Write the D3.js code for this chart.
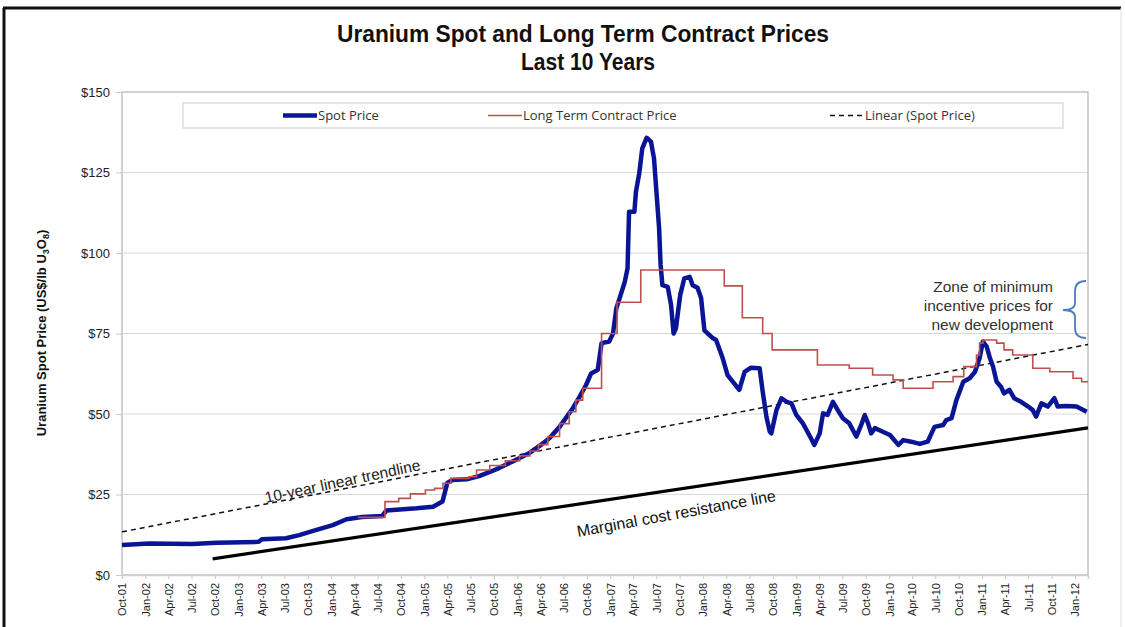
<!DOCTYPE html>
<html>
<head>
<meta charset="utf-8">
<script src="https://cdn.jsdelivr.net/npm/d3@7"></script>
<style>
  body { margin: 0; background: #fff; }
  svg { display: block; }
</style>
</head>
<body>
<div id="chart"></div>
<script>
// spot price, weekly-ish readings [date, US$/lb]
const spotPrice = [
  ['2001-10-01', 9.3], ['2002-01-16', 9.8], ['2002-07-04', 9.6], ['2002-10-07', 10.0],
  ['2003-03-22', 10.3], ['2003-04-04', 11.1], ['2003-07-07', 11.4], ['2003-08-28', 12.4],
  ['2003-11-04', 14.0], ['2004-01-07', 15.5], ['2004-03-01', 17.3], ['2004-05-01', 18.0],
  ['2004-07-19', 18.3], ['2004-08-04', 20.0], ['2004-12-01', 20.7], ['2005-02-04', 21.2],
  ['2005-03-13', 22.8], ['2005-04-01', 28.6], ['2005-04-21', 29.5], ['2005-06-16', 29.7],
  ['2005-08-04', 30.7], ['2005-09-15', 32.0], ['2005-10-21', 33.2], ['2005-12-01', 34.8],
  ['2006-01-10', 36.3], ['2006-02-18', 37.9], ['2006-03-28', 40.0], ['2006-05-07', 42.5],
  ['2006-06-16', 46.0], ['2006-08-07', 51.8], ['2006-09-03', 55.4], ['2006-09-28', 59.0],
  ['2006-10-18', 62.6], ['2006-11-13', 63.7], ['2006-11-28', 72.0], ['2006-12-28', 72.5],
  ['2007-01-12', 75.0], ['2007-01-25', 82.8], ['2007-02-07', 86.0], ['2007-02-27', 91.0],
  ['2007-03-10', 95.2], ['2007-03-16', 112.8], ['2007-04-06', 112.8], ['2007-04-12', 119.0],
  ['2007-04-25', 124.7], ['2007-05-07', 132.5], ['2007-05-24', 135.8], ['2007-06-10', 134.6],
  ['2007-06-22', 129.4], ['2007-07-01', 119.6], ['2007-07-12', 107.7], ['2007-07-18', 96.3],
  ['2007-07-25', 90.0], ['2007-08-15', 89.5], ['2007-08-28', 83.9], ['2007-09-07', 75.0],
  ['2007-09-16', 76.6], ['2007-10-03', 87.0], ['2007-10-19', 92.1], ['2007-11-09', 92.6],
  ['2007-11-21', 90.0], ['2007-12-10', 89.2], ['2007-12-24', 86.0], ['2008-01-06', 76.0],
  ['2008-01-19', 75.0], ['2008-02-09', 73.5], ['2008-02-21', 73.0], ['2008-03-18', 67.3],
  ['2008-04-06', 62.1], ['2008-04-27', 60.0], ['2008-05-22', 57.5], ['2008-06-12', 63.1],
  ['2008-07-07', 64.4], ['2008-08-10', 64.2], ['2008-08-22', 57.0], ['2008-09-06', 49.0],
  ['2008-09-19', 44.5], ['2008-09-25', 44.0], ['2008-10-15', 51.2], ['2008-11-04', 54.9],
  ['2008-11-24', 53.8], ['2008-12-13', 53.3], ['2009-01-01', 49.7], ['2009-01-27', 47.1],
  ['2009-02-24', 43.0], ['2009-03-13', 40.4], ['2009-04-03', 44.0], ['2009-04-16', 50.2],
  ['2009-05-04', 49.7], ['2009-05-25', 53.8], ['2009-06-13', 51.2], ['2009-07-03', 48.7],
  ['2009-07-28', 47.1], ['2009-08-25', 43.0], ['2009-09-13', 46.6], ['2009-09-27', 49.7],
  ['2009-10-10', 47.1], ['2009-10-22', 44.0], ['2009-11-06', 45.6], ['2009-12-07', 44.5],
  ['2010-01-04', 43.5], ['2010-02-06', 40.4], ['2010-02-25', 41.9], ['2010-03-28', 41.4],
  ['2010-05-01', 40.7], ['2010-06-01', 41.4], ['2010-06-28', 46.0], ['2010-08-01', 46.6],
  ['2010-08-13', 48.1], ['2010-09-03', 48.7], ['2010-09-22', 54.3], ['2010-10-19', 60.0],
  ['2010-11-13', 61.1], ['2010-12-04', 63.1], ['2010-12-22', 67.3], ['2011-01-04', 72.5],
  ['2011-01-19', 70.9], ['2011-02-01', 67.3], ['2011-02-13', 64.7], ['2011-02-27', 60.0],
  ['2011-03-16', 58.5], ['2011-03-28', 56.4], ['2011-04-18', 57.5], ['2011-05-07', 54.9],
  ['2011-06-03', 53.8], ['2011-07-01', 52.3], ['2011-07-19', 51.2], ['2011-08-01', 49.2],
  ['2011-08-22', 53.3], ['2011-09-16', 52.3], ['2011-10-12', 54.9], ['2011-10-25', 52.3],
  ['2011-11-28', 52.5], ['2012-01-07', 52.3], ['2012-02-16', 50.7]
];

// long term contract price, step changes [date, US$/lb]
const contractPrice = [
  ['2004-04-15', 17.9], ['2004-07-30', 22.8], ['2004-09-22', 23.8], ['2004-11-07', 25.2],
  ['2005-01-05', 26.4], ['2005-02-10', 26.9], ['2005-03-15', 28.5], ['2005-04-15', 30.0],
  ['2005-06-25', 30.5], ['2005-07-25', 32.6], ['2005-09-15', 34.0], ['2005-11-15', 35.5],
  ['2006-01-10', 37.0], ['2006-02-20', 38.5], ['2006-03-25', 40.5], ['2006-05-01', 43.0],
  ['2006-06-16', 47.0], ['2006-07-24', 50.7], ['2006-08-19', 54.3], ['2006-09-15', 58.0],
  ['2006-11-28', 75.0], ['2007-01-28', 84.7], ['2007-05-01', 94.7], ['2008-03-24', 89.8],
  ['2008-06-03', 79.9], ['2008-08-22', 75.0], ['2008-09-28', 69.9], ['2009-03-25', 65.2],
  ['2009-07-28', 64.2], ['2009-10-28', 62.1], ['2010-01-16', 60.6], ['2010-02-25', 58.0],
  ['2010-06-22', 60.0], ['2010-09-09', 61.6], ['2010-10-21', 64.7], ['2010-12-10', 68.3],
  ['2010-12-22', 72.0], ['2011-01-04', 73.0], ['2011-02-27', 72.0], ['2011-03-28', 69.9],
  ['2011-05-01', 68.3], ['2011-07-19', 64.2], ['2011-09-24', 63.1], ['2011-12-24', 61.1],
  ['2012-01-27', 60.0], ['2012-02-21', 60.0]
];

// linear trend of spot price (end points) and marginal cost line
const trendLine = [['2001-10-01', 13.4], ['2012-02-21', 71.6]];
const marginalCost = [['2002-09-22', 5.0], ['2012-02-21', 45.7]];

const yTicks = [0, 25, 50, 75, 100, 125, 150];
const xRange = ['2001-10-01', '2012-02-21'];
const seriesNames = ['Spot Price', 'Long Term Contract Price', 'Linear (Spot Price)'];
const zoneLines = ['Zone of minimum', 'incentive prices for', 'new development'];

const W = 1125, H = 627;
const margin = { top: 92, right: 37, bottom: 52, left: 122 };
const width = W - margin.left - margin.right;
const height = H - margin.top - margin.bottom;
const parse = d3.timeParse('%Y-%m-%d');
const arial = '"Liberation Sans", Arial, sans-serif';

const svg = d3.select('#chart').append('svg')
  .attr('width', W)
  .attr('height', H);

// outer frame
svg.append('line').attr('x1', 4).attr('x2', 4).attr('y1', 8).attr('y2', H)
  .attr('stroke', '#111').attr('stroke-width', 3);
svg.append('line').attr('x1', 3).attr('x2', 1121).attr('y1', 8).attr('y2', 8)
  .attr('stroke', '#111').attr('stroke-width', 3);
svg.append('line').attr('x1', 1121).attr('x2', 1121).attr('y1', 8).attr('y2', H)
  .attr('stroke', '#ddd').attr('stroke-width', 1);

// title
const title = svg.append('g').attr('font-family', '"Liberation Sans Narrow", "Arial Narrow", ' + arial)
  .attr('font-weight', 'bold').attr('fill', '#111').attr('text-anchor', 'middle');
title.append('text').attr('x', 583).attr('y', 42).attr('font-size', 23)
  .attr('textLength', 492).attr('lengthAdjust', 'spacingAndGlyphs')
  .text('Uranium Spot and Long Term Contract Prices');
title.append('text').attr('x', 588).attr('y', 70).attr('font-size', 23)
  .attr('textLength', 134).attr('lengthAdjust', 'spacingAndGlyphs')
  .text('Last 10 Years');

const chart = svg.append('g')
  .attr('transform', `translate(${margin.left},${margin.top})`);

const x = d3.scaleTime()
  .domain(xRange.map(parse))
  .range([0, width]);

const y = d3.scaleLinear()
  .domain([0, 150])
  .range([height, 0]);

// gridlines
chart.append('g')
  .selectAll('line')
  .data(yTicks.filter(d => d > 0 && d < 150))
  .enter().append('line')
  .attr('x1', 0).attr('x2', width)
  .attr('y1', d => y(d)).attr('y2', d => y(d))
  .attr('stroke', '#d9d9d9').attr('stroke-width', 1);

// plot border
chart.append('rect')
  .attr('x', 0).attr('y', 0).attr('width', width).attr('height', height)
  .attr('fill', 'none').attr('stroke', '#b3b3b3').attr('stroke-width', 1.2);

// y axis
const yaxis = d3.axisLeft(y)
  .tickValues(yTicks)
  .tickSize(6)
  .tickPadding(6)
  .tickFormat(d => '$' + d);

const yAxisG = chart.append('g').attr('class', 'y axis').call(yaxis);
yAxisG.select('.domain').attr('stroke', '#d0d0d0');
yAxisG.selectAll('.tick line').attr('stroke', '#c8c8c8');
yAxisG.selectAll('.tick text')
  .attr('font-family', arial).attr('font-size', 13).attr('fill', '#222');

// x axis, quarterly ticks
const xTicks = d3.timeMonth.every(3).range(parse('2001-10-01'), parse('2012-02-02'));
const xaxis = d3.axisBottom(x)
  .tickValues(xTicks)
  .tickSize(4)
  .tickFormat(d3.timeFormat('%b-%y'));

const xAxisG = chart.append('g')
  .attr('class', 'x axis')
  .attr('transform', `translate(0, ${height})`)
  .call(xaxis);
xAxisG.select('.domain').attr('stroke', '#d0d0d0').attr('stroke-width', 1.5);
xAxisG.selectAll('.tick line').attr('stroke', '#c8c8c8');
xAxisG.selectAll('.tick text')
  .attr('font-family', arial).attr('font-size', 11).attr('fill', '#222')
  .attr('text-anchor', 'end')
  .attr('transform', 'rotate(-90)')
  .attr('x', -8).attr('y', 0).attr('dy', '0.35em');

// y axis title
const yTitle = svg.append('text')
  .attr('transform', 'translate(46,333) rotate(-90)')
  .attr('text-anchor', 'middle')
  .attr('font-family', arial).attr('font-weight', 'bold').attr('font-size', 13)
  .attr('fill', '#111');
yTitle.append('tspan').text('Uranium Spot Price (US$/lb U');
yTitle.append('tspan').attr('font-size', 9).attr('dy', 3).text('3');
yTitle.append('tspan').attr('dy', -3).text('O');
yTitle.append('tspan').attr('font-size', 9).attr('dy', 3).text('8');
yTitle.append('tspan').attr('dy', -3).text(')');

const line = d3.line()
  .x(d => x(parse(d[0])))
  .y(d => y(d[1]));

// marginal cost resistance line
chart.append('path')
  .datum(marginalCost)
  .attr('d', line)
  .attr('fill', 'none').attr('stroke', '#000').attr('stroke-width', 3.2);

// trendline
chart.append('path')
  .datum(trendLine)
  .attr('d', line)
  .attr('fill', 'none').attr('stroke', '#111').attr('stroke-width', 1.5)
  .attr('stroke-dasharray', '5,4');

// spot price
chart.append('path')
  .datum(spotPrice)
  .attr('d', line)
  .attr('fill', 'none').attr('stroke', '#0a1596').attr('stroke-width', 4.5)
  .attr('stroke-linejoin', 'round');

// long term contract price (stepped)
chart.append('path')
  .datum(contractPrice)
  .attr('d', line.curve(d3.curveStepAfter))
  .attr('fill', 'none').attr('stroke', '#c0504d').attr('stroke-width', 1.6);

// legend
const legend = svg.append('g');
legend.append('rect')
  .attr('x', 183).attr('y', 103).attr('width', 880).attr('height', 25)
  .attr('fill', '#fff').attr('stroke', '#d4d4d4').attr('stroke-width', 1.2);

const legendItems = [
  { name: seriesNames[0], x1: 283, color: '#0a1596', w: 4.5, dash: null },
  { name: seriesNames[1], x1: 488, color: '#c0504d', w: 1.6, dash: null },
  { name: seriesNames[2], x1: 830, color: '#111', w: 1.5, dash: '5,4' }
];
legendItems.forEach(it => {
  legend.append('line')
    .attr('x1', it.x1).attr('x2', it.x1 + 34).attr('y1', 115.5).attr('y2', 115.5)
    .attr('stroke', it.color).attr('stroke-width', it.w)
    .attr('stroke-dasharray', it.dash);
  legend.append('text')
    .attr('x', it.x1 + 35).attr('y', 120)
    .attr('font-family', '"Open Sans", sans-serif').attr('font-size', 13)
    .attr('fill', '#333')
    .text(it.name);
});

// annotations
svg.append('text')
  .attr('transform', 'translate(266,503) rotate(-12)')
  .attr('font-family', arial).attr('font-size', 15.5).attr('fill', '#222')
  .text('10-year linear trendline');

svg.append('text')
  .attr('transform', 'translate(578,537) rotate(-10.3)')
  .attr('font-family', arial).attr('font-size', 16).attr('fill', '#111')
  .text('Marginal cost resistance line');

const zone = svg.append('text')
  .attr('text-anchor', 'end')
  .attr('font-family', arial).attr('font-size', 15.5).attr('fill', '#333');
zoneLines.forEach((t, i) => {
  zone.append('tspan').attr('x', 1053).attr('y', 292 + i * 19).text(t);
});

// brace
svg.append('path')
  .attr('d', 'M1086,281 Q1075,281 1075,291 L1075,303 Q1075,310 1063,310 Q1075,310 1075,317 L1075,328 Q1075,338 1086,338')
  .attr('fill', 'none').attr('stroke', '#4a7ebb').attr('stroke-width', 1.8);
</script>
</body>
</html>
